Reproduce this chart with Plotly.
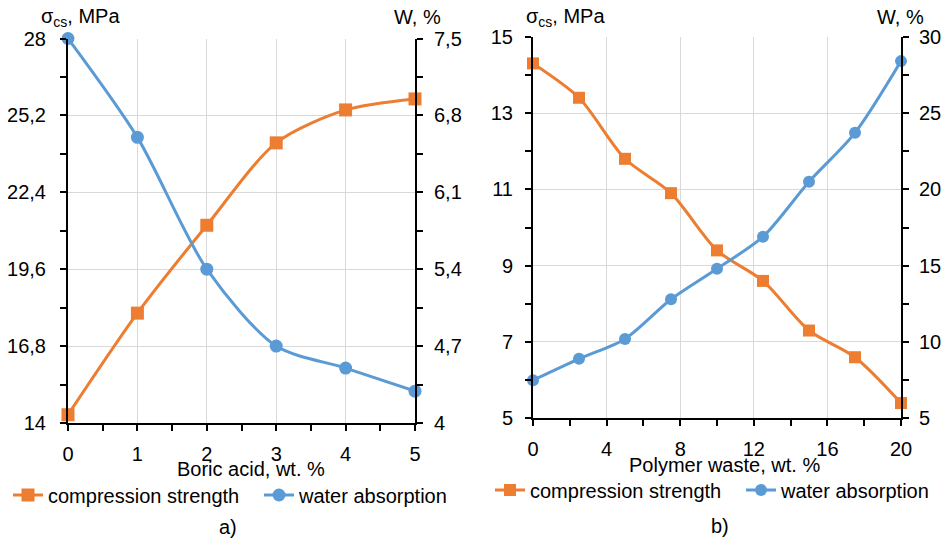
import plotly.graph_objects as go

# ---- data: panel a) ----
boric = [0, 1, 2, 3, 4, 5]
cs_a = [14.3, 18.0, 21.2, 24.2, 25.4, 25.8]
wa_a = [7.5, 6.6, 5.4, 4.7, 4.5, 4.29]

# ---- data: panel b) ----
polymer = [0, 2.5, 5, 7.5, 10, 12.5, 15, 17.5, 20]
cs_b = [14.3, 13.4, 11.8, 10.9, 9.4, 8.6, 7.3, 6.6, 5.4]
wa_b = [7.5, 8.9, 10.2, 12.8, 14.8, 16.9, 20.5, 23.7, 28.4]

ya_vals = [14, 16.8, 19.6, 22.4, 25.2, 28]
ya_text = ["14", "16,8", "19,6", "22,4", "25,2", "28"]
ya2_vals = [4, 4.7, 5.4, 6.1, 6.8, 7.5]
ya2_text = ["4", "4,7", "5,4", "6,1", "6,8", "7,5"]
yb_vals = [5, 7, 9, 11, 13, 15]
yb2_vals = [5, 10, 15, 20, 25, 30]

ORANGE = "#ED7D31"
BLUE = "#5B9BD5"
FONT = "Liberation Sans"
FS = 20

# page body has an 8px margin: figure is drawn from (8, 8) of the window.
# The figure is made a little wider than the window so the legends fit in it.
OFF = 8
W, H = 1000, 541 - OFF

def fx(px):
    return (px - OFF) / W

def fy(py):
    return 1 - (py - OFF) / H

fig = go.Figure()

def line_trace(x, y, color, symbol, name, xa, ya, legend, size):
    return go.Scatter(
        x=x, y=y, mode="lines+markers", name=name,
        line=dict(color=color, width=3, shape="spline", smoothing=0.8),
        marker=dict(color=color, symbol=symbol, size=size),
        xaxis=xa, yaxis=ya, legend=legend, cliponaxis=False,
    )

fig.add_trace(line_trace(boric, cs_a, ORANGE, "square", "compression strength", "x", "y", "legend", 13))
fig.add_trace(line_trace(boric, wa_a, BLUE, "circle", "water absorption", "x", "y2", "legend", 13))
fig.add_trace(line_trace(polymer, cs_b, ORANGE, "square", "compression strength", "x2", "y3", "legend2", 12))
fig.add_trace(line_trace(polymer, wa_b, BLUE, "circle", "water absorption", "x2", "y4", "legend2", 12))

dom_a = [fx(68), fx(415)]
dom_b = [fx(533), fx(901)]
ydom_a = [fy(423), fy(38.5)]
ydom_b = [fy(418.3), fy(36.7)]

GRID = "#d9d9d9"
MINOR = dict(ticklen=6, tickwidth=2, tickcolor="black", ticks="outside", showgrid=False)
common = dict(showline=True, linecolor="black", linewidth=2, ticks="outside",
              ticklen=6, tickwidth=2, tickcolor="black", gridcolor=GRID, gridwidth=1,
              tickfont=dict(family=FONT, size=FS, color="black"), zeroline=False,
              automargin=False)

fig.update_layout(
    template="none",
    width=W, height=H, margin=dict(l=0, r=0, t=0, b=0, pad=0), autosize=False,
    paper_bgcolor="white", plot_bgcolor="white",
    font=dict(family=FONT, size=FS, color="black"),
    xaxis=dict(domain=dom_a, range=[0, 5], dtick=1, tick0=0, anchor="y",
               minor=dict(dtick=0.5, **MINOR),
               showgrid=True, ticklabelstandoff=6, **common),
    yaxis=dict(domain=ydom_a, range=[14, 28], tickvals=ya_vals, ticktext=ya_text, anchor="x",
               minor=dict(dtick=1.4, tick0=14, **MINOR),
               showgrid=True, ticklabelstandoff=10, **common),
    yaxis2=dict(domain=ydom_a, range=[4, 7.5], tickvals=ya2_vals, ticktext=ya2_text, anchor="x",
                overlaying="y", side="right",
                minor=dict(dtick=0.35, tick0=4, **MINOR),
                showgrid=False, ticklabelstandoff=7, **common),
    xaxis2=dict(domain=dom_b, range=[0, 20], dtick=4, tick0=0, anchor="y3",
                minor=dict(dtick=2, **MINOR),
                showgrid=True, ticklabelstandoff=6, **common),
    yaxis3=dict(domain=ydom_b, range=[5, 15], tickvals=yb_vals, anchor="x2",
                minor=dict(dtick=1, tick0=5, **MINOR),
                showgrid=True, ticklabelstandoff=8, **common),
    yaxis4=dict(domain=ydom_b, range=[5, 30], tickvals=yb2_vals, anchor="x2",
                overlaying="y3", side="right",
                minor=dict(dtick=2.5, tick0=5, **MINOR),
                showgrid=False, ticklabelstandoff=6, **common),
    legend=dict(orientation="h", x=0, y=fy(495), xanchor="left", yanchor="middle",
                font=dict(family=FONT, size=FS), bgcolor="rgba(0,0,0,0)", itemwidth=30,
                entrywidth=206, entrywidthmode="pixels"),
    legend2=dict(orientation="h", x=fx(490), y=fy(490), xanchor="left", yanchor="middle",
                 font=dict(family=FONT, size=FS), bgcolor="rgba(0,0,0,0)", itemwidth=30,
                 entrywidth=206, entrywidthmode="pixels"),
)

def ann(text, x, y, xanchor="center"):
    fig.add_annotation(text=text, x=fx(x), y=fy(y), xref="paper", yref="paper",
                       showarrow=False, xanchor=xanchor, yanchor="middle",
                       font=dict(family=FONT, size=FS, color="black"))

ann("σ<sub>cs</sub>, MPa", 80, 17)
ann("W, %", 417, 17)
ann("σ<sub>cs</sub>, MPa", 565, 17)
ann("W, %", 900, 17)
ann("Boric acid, wt. %", 251, 469)
ann("Polymer waste, wt. %", 724, 465)
ann("a)", 228, 527)
ann("b)", 720, 526)

fig.write_html("out.html")
